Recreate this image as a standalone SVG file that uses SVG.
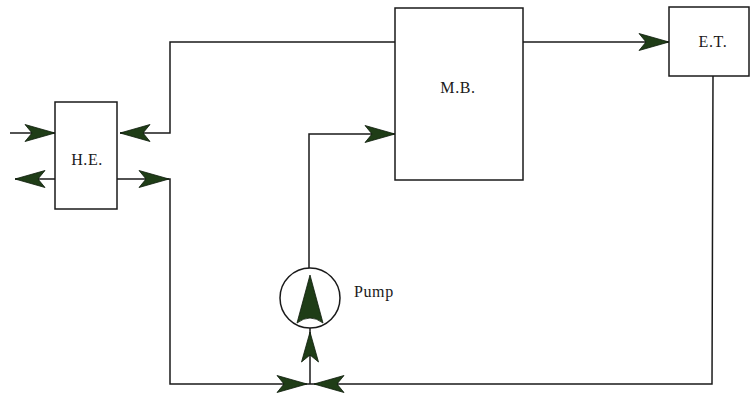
<svg xmlns="http://www.w3.org/2000/svg" xmlns:xlink="http://www.w3.org/1999/xlink" width="752" height="397" viewBox="0 0 752 397">
<style>
.box{fill:#fff;stroke:#1a1a1a;stroke-width:1.5}
.ln{fill:none;stroke:#1a1a1a;stroke-width:1.5}
.ah{fill:#1f3d17;stroke:#0d1a0a;stroke-width:0.8}
.t{font-family:"Liberation Serif",serif;font-size:16px;fill:#1a1a1a;letter-spacing:0.6px}
</style>
<defs>
<path id="ah" class="ah" d="M0,0 L-30,-8.5 L-23,0 L-30,8.5 Z"/>
</defs>
<rect width="752" height="397" fill="#fff"/>
<g id="connectors">
<path class="ln" d="M10,133 H55"/>
<path class="ln" d="M15,179 H55"/>
<path class="ln" d="M120,133 H170 V42 H395"/>
<path class="ln" d="M117,179 H170 V384 H712 L713,76"/>
<path class="ln" d="M523,42 H669"/>
<path class="ln" d="M395,134 H309 V268"/>
<path class="ln" d="M310,328 V384"/>
<use xlink:href="#ah" transform="translate(55,133)"/>
<use xlink:href="#ah" transform="translate(15,179) rotate(180)"/>
<use xlink:href="#ah" transform="translate(120,133) rotate(180)"/>
<use xlink:href="#ah" transform="translate(169,179)"/>
<use xlink:href="#ah" transform="translate(669,42)"/>
<use xlink:href="#ah" transform="translate(395,134)"/>
<use xlink:href="#ah" transform="translate(307,384)"/>
<use xlink:href="#ah" transform="translate(314,384) rotate(180)"/>
<use xlink:href="#ah" transform="translate(310,332) rotate(-90)"/>
</g>
<g id="he">
<rect class="box" x="55" y="102" width="62" height="107"/>
<text class="t" x="87" y="165" text-anchor="middle">H.E.</text>
</g>
<g id="mb">
<rect class="box" x="395" y="8" width="128" height="172"/>
<text class="t" x="458" y="93" text-anchor="middle">M.B.</text>
</g>
<g id="et">
<rect class="box" x="669" y="7" width="80" height="69"/>
<text class="t" x="713" y="47" text-anchor="middle">E.T.</text>
</g>
<g id="pump">
<circle class="box" cx="310" cy="298" r="30"/>
<path class="ah" d="M310,275 L297,323 Q310,313 323,323 Z"/>
<text class="t" x="354" y="297">Pump</text>
</g>
</svg>
